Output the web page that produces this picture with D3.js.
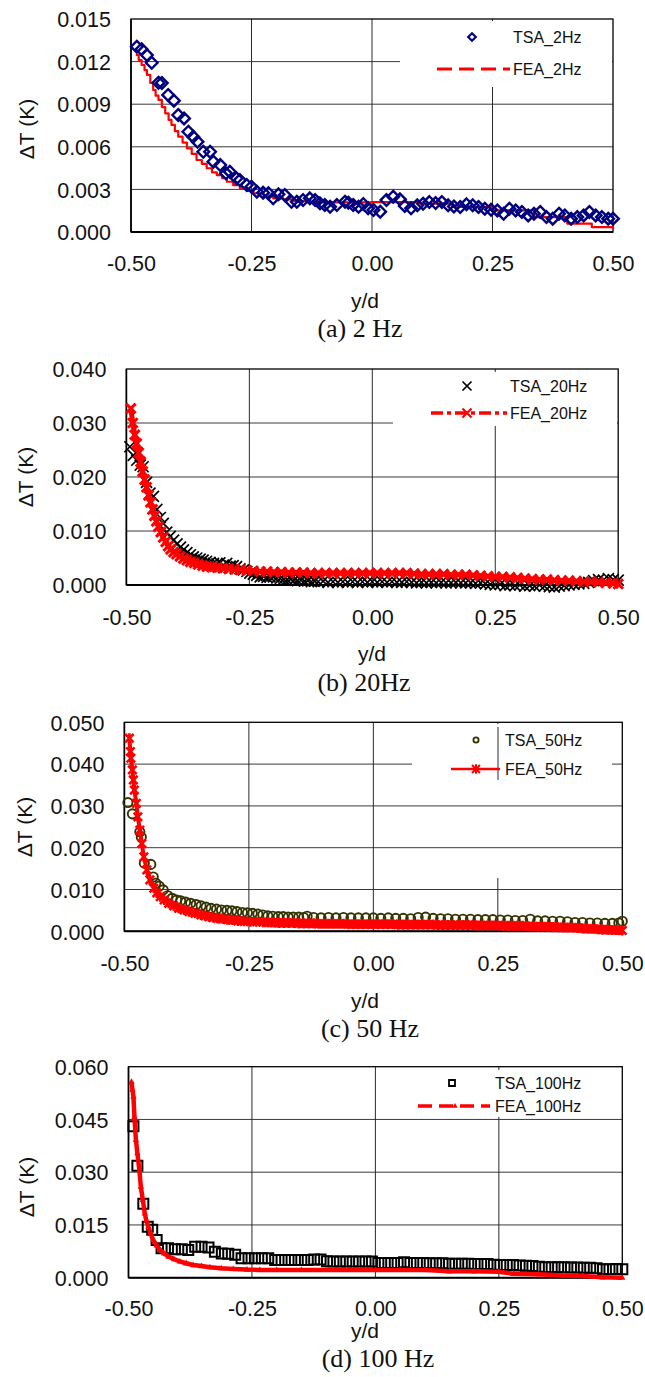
<!DOCTYPE html>
<html>
<head>
<meta charset="utf-8">
<script src="https://cdn.jsdelivr.net/npm/d3@7"></script>
<style>
  body { margin: 0; background: #fff; }
  svg { display: block; }
  text { font-family: "Liberation Sans", Arial, sans-serif; fill: #111; }
  .caption { font-family: "Liberation Serif", "Times New Roman", serif; }
</style>
</head>
<body>
<svg id="fig" width="645" height="1377"></svg>
<script>
// ---- axis ticks ----
const xTicks = [-0.5, -0.25, 0, 0.25, 0.5];
const yTicks2Hz = [0, 0.003, 0.006, 0.009, 0.012, 0.015];
const yTicks20Hz = [0, 0.01, 0.02, 0.03, 0.04];
const yTicks50Hz = [0, 0.01, 0.02, 0.03, 0.04, 0.05];
const yTicks100Hz = [0, 0.015, 0.03, 0.045, 0.06];

// ---- 2 Hz: measured (TSA) and computed (FEA) temperature amplitude vs y/d ----
const tsa2Hz = [
  [-0.488,0.01305],[-0.478,0.01287],[-0.467,0.01246],[-0.457,0.01192],[-0.443,0.01051],[-0.436,0.0105],
  [-0.423,0.00965],[-0.411,0.00925],[-0.402,0.00824],[-0.390,0.0080],[-0.381,0.00706],[-0.371,0.00671],
  [-0.362,0.00636],[-0.350,0.00565],[-0.336,0.00565],[-0.329,0.00495],[-0.315,0.00472],[-0.303,0.00413],
  [-0.295,0.00425],[-0.281,0.00378],[-0.274,0.00366],[-0.260,0.00331],[-0.250,0.00319],[-0.239,0.00284],
  [-0.226,0.00277],[-0.215,0.00273],[-0.205,0.00237],[-0.194,0.00265],[-0.181,0.00261],[-0.167,0.00213],
  [-0.156,0.00213],[-0.143,0.00225],[-0.129,0.00237],[-0.118,0.00225],[-0.108,0.00202],[-0.098,0.0019],
  [-0.087,0.00178],[-0.073,0.0019],[-0.056,0.00213],[-0.049,0.00206],[-0.039,0.0019],[-0.028,0.00178],
  [-0.018,0.00197],[-0.008,0.00167],[0.003,0.00155],[0.017,0.00143],[0.030,0.00225],[0.044,0.00249],
  [0.058,0.0023],[0.068,0.00183],[0.081,0.00167],[0.094,0.00188],[0.106,0.00199],[0.119,0.00211],
  [0.132,0.00204],[0.145,0.00211],[0.158,0.00188],[0.170,0.0018],[0.183,0.00176],[0.196,0.00195],
  [0.209,0.00188],[0.221,0.00176],[0.234,0.00164],[0.247,0.00157],[0.260,0.00152],[0.273,0.00129],
  [0.285,0.00164],[0.298,0.00152],[0.311,0.00141],[0.324,0.00117],[0.336,0.00129],[0.349,0.00141],
  [0.362,0.00105],[0.375,0.00094],[0.388,0.00129],[0.400,0.00117],[0.413,0.00094],[0.426,0.00105],
  [0.439,0.00117],[0.451,0.00141],[0.464,0.00117],[0.477,0.00105],[0.490,0.00094],[0.500,0.00094]
];
const fea2Hz = [
  [-0.490,0.01247],[-0.484,0.0121],[-0.478,0.01176],[-0.472,0.0114],[-0.467,0.01106],[-0.460,0.0105],
  [-0.454,0.0100],[-0.449,0.0096],[-0.443,0.0093],[-0.436,0.0088],[-0.429,0.00836],[-0.422,0.0079],
  [-0.416,0.00754],[-0.409,0.0071],[-0.402,0.00671],[-0.393,0.0063],[-0.384,0.00589],[-0.374,0.0055],
  [-0.364,0.00507],[-0.353,0.0048],[-0.343,0.00449],[-0.332,0.0042],[-0.322,0.00401],[-0.311,0.0038],
  [-0.301,0.00354],[-0.288,0.0033],[-0.274,0.00308],[-0.260,0.0029],[-0.246,0.00273],[-0.225,0.0025],
  [-0.205,0.00237],[-0.184,0.0023],[-0.163,0.00218],[-0.135,0.0021],[-0.108,0.00209],[0.0,0.0021],
  [0.10,0.0020],[0.166,0.00176],[0.251,0.00152],[0.336,0.00105],[0.405,0.00059],[0.456,0.00035],[0.500,0.00023]
];

// ---- 20 Hz ----
const tsa20Hz = [
  [-0.493,0.0256],[-0.486,0.0240],[-0.479,0.0231],[-0.472,0.0222],[-0.466,0.0219],[-0.459,0.0190],
  [-0.452,0.0170],[-0.445,0.0164],[-0.438,0.0140],[-0.431,0.0125],[-0.425,0.0114],[-0.418,0.0098],
  [-0.411,0.0090],[-0.404,0.0083],[-0.397,0.0076],[-0.390,0.0070],[-0.384,0.0065],[-0.377,0.0060],
  [-0.370,0.0056],[-0.364,0.0052],[-0.357,0.0050],[-0.350,0.0048],[-0.344,0.0046],[-0.337,0.0044],
  [-0.330,0.0042],[-0.323,0.0040],[-0.316,0.0039],[-0.310,0.0041],[-0.303,0.0037],[-0.296,0.0040],
  [-0.289,0.0035],[-0.283,0.0036],[-0.276,0.0034],[-0.269,0.0030],[-0.262,0.0028],[-0.255,0.0025],
  [-0.249,0.0022],[-0.242,0.0020],[-0.235,0.0018],[-0.228,0.0015],[-0.221,0.0016],[-0.214,0.0014],
  [-0.208,0.0015],[-0.201,0.0015],[-0.194,0.0013],[-0.187,0.0012],[-0.180,0.0011],[-0.173,0.0010],
  [-0.166,0.0011],[-0.159,0.0009],[-0.152,0.0008],[-0.145,0.0009],[-0.138,0.0007],[-0.131,0.0008],
  [-0.124,0.0006],[-0.117,0.0007],[-0.110,0.0006],[-0.100,0.0007],[-0.090,0.0005],[-0.080,0.0006],
  [-0.070,0.0005],[-0.060,0.0006],[-0.050,0.0005],[-0.040,0.0006],[-0.030,0.0005],[-0.020,0.0006],
  [-0.010,0.0005],[0.000,0.0006],[0.010,0.0005],[0.020,0.0006],[0.030,0.0005],[0.040,0.0006],
  [0.050,0.0005],[0.060,0.0005],[0.070,0.0006],[0.080,0.0005],[0.090,0.0004],[0.100,0.0005],
  [0.110,0.0004],[0.120,0.0005],[0.130,0.0004],[0.140,0.0005],[0.150,0.0004],[0.160,0.0004],
  [0.170,0.0005],[0.180,0.0004],[0.190,0.0004],[0.200,0.0004],[0.210,0.0003],[0.220,0.0004],
  [0.230,0.0002],[0.240,0.0001],[0.250,0.0000],[0.260,0.0001],[0.270,-0.0001],[0.280,0.0000],
  [0.290,-0.0001],[0.300,0.0000],[0.310,-0.0002],[0.320,-0.0001],[0.330,-0.0002],[0.340,0.0000],
  [0.350,-0.0002],[0.360,-0.0003],[0.370,-0.0004],[0.380,-0.0002],[0.390,-0.0001],[0.400,0.0000],
  [0.410,0.0001],[0.420,0.0002],[0.430,0.0003],[0.440,0.0005],[0.450,0.0008],[0.460,0.0010],
  [0.470,0.0009],[0.480,0.0012],[0.490,0.0010],[0.500,0.0009]
];
const fea20Hz = [
  [-0.491,0.0327],[-0.487,0.0300],[-0.483,0.0278],[-0.479,0.0262],[-0.475,0.0245],[-0.471,0.0228],
  [-0.467,0.0210],[-0.463,0.0195],[-0.459,0.0181],[-0.455,0.0166],[-0.451,0.0153],[-0.447,0.0140],
  [-0.443,0.0128],[-0.439,0.0118],[-0.435,0.0108],[-0.430,0.0098],[-0.425,0.0088],[-0.420,0.0080],
  [-0.415,0.0072],[-0.410,0.0066],[-0.404,0.0061],[-0.398,0.0057],[-0.391,0.0053],[-0.384,0.0049],
  [-0.377,0.0046],[-0.370,0.0043],[-0.362,0.0041],[-0.354,0.0038],[-0.345,0.0036],[-0.336,0.0034],
  [-0.326,0.0033],[-0.315,0.0032],[-0.304,0.0031],[-0.292,0.0030],[-0.280,0.0029],[-0.268,0.0028],
  [-0.255,0.0027],[-0.242,0.0026],[-0.228,0.0025],[-0.214,0.0025],[-0.200,0.0024],[-0.185,0.0024],
  [-0.170,0.0023],[-0.155,0.0023],[-0.140,0.0023],[-0.125,0.0022],[-0.110,0.0022],[-0.095,0.0022],
  [-0.080,0.0022],[-0.065,0.0022],[-0.050,0.0022],[-0.035,0.0022],[-0.020,0.0022],[-0.005,0.0022],
  [0.010,0.0022],[0.025,0.0022],[0.040,0.0022],[0.055,0.0022],[0.070,0.0022],[0.085,0.0021],
  [0.100,0.0020],[0.115,0.0020],[0.130,0.0020],[0.145,0.0020],[0.160,0.0019],[0.175,0.0019],
  [0.190,0.0019],[0.205,0.0018],[0.220,0.0017],[0.235,0.0016],[0.250,0.0015],[0.265,0.0015],
  [0.280,0.0014],[0.295,0.0013],[0.310,0.0012],[0.325,0.0011],[0.340,0.0010],[0.355,0.0010],
  [0.370,0.0009],[0.385,0.0008],[0.400,0.0008],[0.415,0.0007],[0.430,0.0006],[0.445,0.0006],
  [0.460,0.0005],[0.475,0.0004],[0.490,0.0003],[0.500,0.0002]
];

// ---- 50 Hz ----
const tsa50Hz = [
  [-0.493,0.0308],[-0.484,0.0281],[-0.469,0.0238],[-0.466,0.0225],[-0.460,0.0163],[-0.447,0.0160],
  [-0.442,0.0130],[-0.437,0.0115],[-0.430,0.0108],[-0.422,0.0099],[-0.413,0.0085],[-0.404,0.0079],
  [-0.395,0.0075],[-0.387,0.0073],[-0.377,0.0070],[-0.367,0.0067],[-0.356,0.0064],[-0.346,0.0061],
  [-0.336,0.0058],[-0.326,0.0055],[-0.315,0.0053],[-0.305,0.0051],[-0.294,0.0050],[-0.284,0.0049],
  [-0.274,0.0047],[-0.263,0.0045],[-0.253,0.0044],[-0.243,0.0043],[-0.232,0.0041],[-0.222,0.0039],
  [-0.212,0.0037],[-0.202,0.0036],[-0.191,0.0035],[-0.181,0.0035],[-0.171,0.0034],[-0.161,0.0034],
  [-0.150,0.0034],[-0.140,0.0033],[-0.133,0.0036],[-0.120,0.0033],[-0.105,0.0032],[-0.090,0.0033],
  [-0.075,0.0032],[-0.060,0.0033],[-0.045,0.0032],[-0.030,0.0032],[-0.015,0.0032],[0.000,0.0032],
  [0.015,0.0031],[0.030,0.0032],[0.045,0.0031],[0.060,0.0031],[0.075,0.0030],[0.090,0.0033],
  [0.105,0.0034],[0.120,0.0031],[0.135,0.0030],[0.150,0.0030],[0.165,0.0029],[0.180,0.0029],
  [0.195,0.0029],[0.210,0.0028],[0.225,0.0028],[0.240,0.0028],[0.255,0.0027],[0.270,0.0027],
  [0.285,0.0026],[0.300,0.0026],[0.315,0.0029],[0.330,0.0025],[0.345,0.0025],[0.360,0.0024],
  [0.375,0.0024],[0.390,0.0023],[0.405,0.0021],[0.420,0.0021],[0.435,0.0020],[0.450,0.0020],
  [0.465,0.0019],[0.480,0.0019],[0.493,0.0020],[0.500,0.0024]
];
const fea50Hz = [
  [-0.490,0.0462],[-0.488,0.0430],[-0.487,0.0414],[-0.484,0.0386],[-0.482,0.0362],[-0.480,0.0338],
  [-0.476,0.0306],[-0.473,0.0274],[-0.469,0.0242],[-0.465,0.0210],[-0.461,0.0178],[-0.455,0.0147],
  [-0.449,0.0123],[-0.441,0.0103],[-0.435,0.0092],[-0.428,0.0083],[-0.420,0.0075],[-0.411,0.0067],
  [-0.401,0.0061],[-0.391,0.0055],[-0.380,0.0051],[-0.370,0.0047],[-0.358,0.0043],[-0.346,0.0039],
  [-0.338,0.0037],[-0.330,0.0035],[-0.322,0.0033],[-0.313,0.0031],[-0.303,0.0030],[-0.293,0.0028],
  [-0.283,0.0027],[-0.272,0.0025],[-0.260,0.0024],[-0.247,0.0023],[-0.235,0.0023],[-0.222,0.0022],
  [-0.211,0.0021],[-0.200,0.0021],[-0.190,0.0020],[-0.180,0.0020],[-0.170,0.0020],[-0.160,0.0020],
  [-0.150,0.0019],[-0.140,0.0019],[-0.130,0.0019],[-0.120,0.0019],[-0.110,0.0018],[-0.100,0.0018],
  [-0.090,0.0018],[-0.080,0.0018],[-0.070,0.0018],[-0.060,0.0018],[-0.050,0.0017],[-0.040,0.0017],
  [-0.030,0.0017],[-0.020,0.0017],[-0.010,0.0017],[0.000,0.0017],[0.010,0.0017],[0.020,0.0017],
  [0.030,0.0017],[0.040,0.0017],[0.050,0.0016],[0.060,0.0016],[0.070,0.0016],[0.080,0.0016],
  [0.090,0.0016],[0.100,0.0016],[0.110,0.0016],[0.120,0.0016],[0.130,0.0015],[0.140,0.0015],
  [0.150,0.0015],[0.160,0.0015],[0.170,0.0015],[0.180,0.0015],[0.190,0.0015],[0.200,0.0015],
  [0.210,0.0014],[0.220,0.0014],[0.230,0.0014],[0.240,0.0014],[0.250,0.0014],[0.260,0.0013],
  [0.270,0.0013],[0.280,0.0013],[0.290,0.0013],[0.300,0.0013],[0.310,0.0012],[0.320,0.0012],
  [0.330,0.0011],[0.340,0.0011],[0.350,0.0011],[0.360,0.0010],[0.370,0.0010],[0.380,0.0009],
  [0.390,0.0009],[0.400,0.0009],[0.410,0.0008],[0.420,0.0007],[0.430,0.0006],[0.440,0.0006],
  [0.450,0.0005],[0.460,0.0004],[0.470,0.0004],[0.480,0.0003],[0.490,0.0003],[0.500,0.0002]
];

// ---- 100 Hz ----
const tsa100Hz = [
  [-0.490,0.0431],[-0.482,0.0318],[-0.470,0.0210],[-0.461,0.0145],[-0.452,0.0136],[-0.443,0.0107],
  [-0.433,0.0084],[-0.420,0.0084],[-0.406,0.0081],[-0.392,0.0081],[-0.379,0.0079],[-0.365,0.0088],
  [-0.352,0.0088],[-0.338,0.0086],[-0.325,0.0074],[-0.311,0.0069],[-0.298,0.0068],[-0.284,0.0065],
  [-0.271,0.0055],[-0.257,0.0055],[-0.244,0.0055],[-0.230,0.0055],[-0.217,0.0055],[-0.203,0.0050],
  [-0.190,0.0050],[-0.176,0.0050],[-0.163,0.0050],[-0.150,0.0050],[-0.137,0.0050],[-0.124,0.0052],
  [-0.111,0.0052],[-0.098,0.0047],[-0.085,0.0046],[-0.072,0.0046],[-0.059,0.0046],[-0.046,0.0046],
  [-0.033,0.0046],[-0.020,0.0046],[-0.007,0.0046],[0.006,0.0042],[0.019,0.0042],[0.032,0.0042],
  [0.045,0.0042],[0.058,0.0044],[0.071,0.0042],[0.084,0.0042],[0.097,0.0042],[0.110,0.0041],
  [0.123,0.0041],[0.136,0.0041],[0.149,0.0040],[0.162,0.0040],[0.175,0.0040],[0.188,0.0040],
  [0.201,0.0039],[0.214,0.0039],[0.227,0.0039],[0.240,0.0037],[0.253,0.0036],[0.266,0.0036],
  [0.279,0.0036],[0.292,0.0035],[0.305,0.0034],[0.318,0.0033],[0.331,0.0031],[0.344,0.0030],
  [0.357,0.0030],[0.370,0.0030],[0.383,0.0030],[0.396,0.0029],[0.409,0.0029],[0.422,0.0028],
  [0.435,0.0028],[0.448,0.0027],[0.461,0.0024],[0.474,0.0024],[0.487,0.0025],[0.500,0.0024]
];
const fea100Hz = [
  [-0.494,0.0557],[-0.492,0.0535],[-0.490,0.0515],[-0.488,0.0458],[-0.485,0.0392],[-0.482,0.0354],
  [-0.478,0.0306],[-0.475,0.0259],[-0.471,0.0221],[-0.467,0.0183],[-0.464,0.0163],[-0.460,0.0145],
  [-0.455,0.0125],[-0.450,0.0107],[-0.443,0.0092],[-0.436,0.0079],[-0.428,0.0069],[-0.419,0.0060],
  [-0.408,0.0053],[-0.396,0.0046],[-0.383,0.0041],[-0.369,0.0036],[-0.352,0.0033],[-0.335,0.0030],
  [-0.312,0.0027],[-0.288,0.0025],[-0.260,0.0023],[-0.234,0.0022],[-0.200,0.0022],[-0.150,0.0022],
  [-0.100,0.0022],[-0.050,0.0022],[0.000,0.0022],[0.050,0.0022],[0.100,0.0022],[0.150,0.0018],
  [0.200,0.0018],[0.250,0.0017],[0.280,0.0011],[0.330,0.0010],[0.380,0.0006],[0.420,0.0005],
  [0.460,0.0001],[0.500,0.0000]
];

// ---- marker shapes ----
function markerPath(kind, r) {
  switch (kind) {
    case "diamond": return `M0,${-r}L${r},0L0,${r}L${-r},0Z`;
    case "cross": return `M${-r},${-r}L${r},${r}M${-r},${r}L${r},${-r}`;
    case "asterisk": return `M${-r},${-r}L${r},${r}M${-r},${r}L${r},${-r}M0,${-r * 1.2}L0,${r * 1.2}`;
    case "square": return `M${-r},${-r}H${r}V${r}H${-r}Z`;
    case "triangle": return `M0,${-r}L${r * 0.9},${r * 0.6}L${-r * 0.9},${r * 0.6}Z`;
    case "circle": return d3.arc()({innerRadius: 0, outerRadius: r, startAngle: 0, endAngle: 2 * Math.PI});
  }
}
function markerStyle(sel, m) {
  sel.attr("d", markerPath(m.shape, m.r))
    .attr("fill", m.fill || "none")
    .attr("stroke", m.stroke || "none")
    .attr("stroke-width", m.sw || 0);
}

const svg = d3.select("#fig");

const panels = [
  {
    box: {left: 131, right: 613, top: 19, bottom: 232}, yMax: 0.015, yTicks: yTicks2Hz,
    xTickY: 263, xTitle: {x: 365, y: 300}, yTitle: {x: 26, y: 129},
    caption: {text: "(a) 2 Hz", x: 360, y: 337},
    legendBox: {x0: 400, x1: 612, y0: 21, y1: 87},
    vGridGaps: {},
    series: [
      {name: "FEA_2Hz", data: fea2Hz, line: {stroke: "#ff0000", sw: 2.2, curve: d3.curveStepAfter}},
      {name: "TSA_2Hz", data: tsa2Hz, marker: {shape: "diamond", r: 5.8, stroke: "#000080", sw: 2.4}}
    ],
    legend: [
      {name: "TSA_2Hz", y: 37, marker: {shape: "diamond", r: 3.8, stroke: "#000080", sw: 2.2}, mx: 472, tx: 513},
      {name: "FEA_2Hz", y: 69, line: {x0: 437, x1: 510, stroke: "#ff0000", sw: 3.2, dash: "15,7"}, tx: 513}
    ]
  },
  {
    box: {left: 126.4, right: 618.2, top: 369, bottom: 585}, yMax: 0.04, yTicks: yTicks20Hz,
    xTickY: 617, xTitle: {x: 372, y: 653}, yTitle: {x: 25, y: 477},
    caption: {text: "(b) 20Hz", x: 364, y: 691},
    legendBox: {x0: 393, x1: 617, y0: 372, y1: 426},
    vGridGaps: {},
    series: [
      {name: "TSA_20Hz", data: tsa20Hz, marker: {shape: "cross", r: 5.5, stroke: "#000", sw: 1.7}},
      {name: "FEA_20Hz", data: fea20Hz, line: {stroke: "#ff0000", sw: 5},
       marker: {shape: "cross", r: 4.8, stroke: "#ff0000", sw: 3}}
    ],
    legend: [
      {name: "TSA_20Hz", y: 386, marker: {shape: "cross", r: 4.5, stroke: "#000", sw: 1.7}, mx: 467, tx: 510},
      {name: "FEA_20Hz", y: 413, line: {x0: 431, x1: 507, stroke: "#ff0000", sw: 3.5, dash: "12,4,4,4"},
       marker: {shape: "cross", r: 4.5, stroke: "#ff0000", sw: 2.2}, mx: 467, tx: 510}
    ]
  },
  {
    box: {left: 124.4, right: 622.3, top: 722.3, bottom: 931.3}, yMax: 0.05, yTicks: yTicks50Hz,
    xTickY: 963, xTitle: {x: 365, y: 1000}, yTitle: {x: 24, y: 827},
    caption: {text: "(c) 50 Hz", x: 370, y: 1037},
    legendBox: {x0: 412, x1: 612, y0: 724, y1: 780},
    vGridGaps: {0.25: [780, 878]},
    legendGridOver: {x: 498, y0: 727, y1: 780},
    series: [
      {name: "TSA_50Hz", data: tsa50Hz, marker: {shape: "circle", r: 4.6, stroke: "#333300", sw: 1.9}},
      {name: "FEA_50Hz", data: fea50Hz, line: {stroke: "#ff0000", sw: 4},
       marker: {shape: "asterisk", r: 4.2, stroke: "#ff0000", sw: 2.6}}
    ],
    legend: [
      {name: "TSA_50Hz", y: 740, marker: {shape: "circle", r: 2.6, stroke: "#333300", sw: 1.8}, mx: 476, tx: 505},
      {name: "FEA_50Hz", y: 769, line: {x0: 451, x1: 500, stroke: "#ff0000", sw: 2.5},
       marker: {shape: "asterisk", r: 4, stroke: "#ff0000", sw: 2}, mx: 476, tx: 505}
    ]
  },
  {
    box: {left: 128.5, right: 622.3, top: 1066.7, bottom: 1277.7}, yMax: 0.06, yTicks: yTicks100Hz,
    xTickY: 1308, xTitle: {x: 365, y: 1330}, yTitle: {x: 26, y: 1187},
    caption: {text: "(d) 100 Hz", x: 378, y: 1367},
    legendBox: {x0: 400, x1: 621, y0: 1070, y1: 1117},
    vGridGaps: {},
    series: [
      {name: "TSA_100Hz", data: tsa100Hz, marker: {shape: "square", r: 5, stroke: "#000", sw: 2}},
      {name: "FEA_100Hz", data: fea100Hz, line: {stroke: "#ff0000", sw: 4.5},
       marker: {shape: "triangle", r: 3.5, fill: "#ff0000"}}
    ],
    legend: [
      {name: "TSA_100Hz", y: 1083, marker: {shape: "square", r: 3, stroke: "#000", sw: 1.8}, mx: 452, tx: 495},
      {name: "FEA_100Hz", y: 1106, line: {x0: 418, x1: 490, stroke: "#ff0000", sw: 3.5, dash: "14,7"},
       marker: {shape: "triangle", r: 3, fill: "#ff0000"}, mx: 455, tx: 495}
    ]
  }
];

panels.forEach(p => {
  const b = p.box;
  const x = d3.scaleLinear().domain([-0.5, 0.5]).range([b.left, b.right]);
  const y = d3.scaleLinear().domain([0, p.yMax]).range([b.bottom, b.top]);
  const g = svg.append("g");

  // horizontal grid
  g.append("g").selectAll("line").data(p.yTicks.slice(1, -1)).join("line")
    .attr("x1", b.left).attr("x2", b.right)
    .attr("y1", d => y(d)).attr("y2", d => y(d))
    .attr("stroke", "#3a3a3a").attr("stroke-width", 1);

  // vertical grid (interior x ticks)
  xTicks.slice(1, -1).forEach(t => {
    const gap = p.vGridGaps[t];
    const segs = gap ? [[b.top, gap[0]], [gap[1], b.bottom]] : [[b.top, b.bottom]];
    segs.forEach(s => g.append("line")
      .attr("x1", x(t)).attr("x2", x(t)).attr("y1", s[0]).attr("y2", s[1])
      .attr("stroke", "#2a2a2a").attr("stroke-width", 1));
  });

  // legend background
  const lb = p.legendBox;
  g.append("rect").attr("x", lb.x0).attr("y", lb.y0)
    .attr("width", lb.x1 - lb.x0).attr("height", lb.y1 - lb.y0).attr("fill", "#fff");
  if (p.legendGridOver) {
    g.append("line").attr("x1", p.legendGridOver.x).attr("x2", p.legendGridOver.x)
      .attr("y1", p.legendGridOver.y0).attr("y2", p.legendGridOver.y1)
      .attr("stroke", "#2a2a2a").attr("stroke-width", 1);
  }

  // frame
  g.append("rect").attr("x", b.left).attr("y", b.top)
    .attr("width", b.right - b.left).attr("height", b.bottom - b.top)
    .attr("fill", "none").attr("stroke", "#000").attr("stroke-width", 1.3);
  g.append("line").attr("x1", b.left).attr("x2", b.right).attr("y1", b.bottom).attr("y2", b.bottom)
    .attr("stroke", "#000").attr("stroke-width", 2);
  g.append("line").attr("x1", b.left).attr("x2", b.left).attr("y1", b.top).attr("y2", b.bottom)
    .attr("stroke", "#000").attr("stroke-width", 1.6);

  // axes labels via d3 axes, domain and tick lines hidden
  const yAxis = d3.axisLeft(y).tickValues(p.yTicks).tickFormat(d3.format(".3f")).tickSize(0).tickPadding(20);
  const ya = g.append("g").attr("transform", `translate(${b.left},0)`).call(yAxis);
  ya.select(".domain").remove();
  ya.selectAll("text").attr("font-size", 21.5).attr("font-family", "Liberation Sans, Arial, sans-serif")
    .attr("fill", "#111").attr("dy", "0.36em");

  const xAxis = d3.axisBottom(x).tickValues(xTicks).tickFormat(d3.format(".2f")).tickSize(0).tickPadding(0);
  const xa = g.append("g").attr("transform", `translate(0,${p.xTickY})`).call(xAxis);
  xa.select(".domain").remove();
  xa.selectAll("text").attr("font-size", 21.5).attr("font-family", "Liberation Sans, Arial, sans-serif")
    .attr("fill", "#111").attr("y", 0).attr("dy", "0.36em")
    .text(d => d3.format(".2f")(d).replace("−", "-"));

  // series
  p.series.forEach(s => {
    if (s.line) {
      const ln = d3.line().x(d => x(d[0])).y(d => y(d[1])).curve(s.line.curve || d3.curveLinear);
      g.append("path").datum(s.data).attr("d", ln)
        .attr("fill", "none").attr("stroke", s.line.stroke).attr("stroke-width", s.line.sw)
        .attr("stroke-dasharray", s.line.dash || null).attr("stroke-linejoin", "round");
    }
    if (s.marker) {
      g.append("g").selectAll("path").data(s.data).join("path")
        .attr("transform", d => `translate(${x(d[0])},${y(d[1])})`)
        .call(markerStyle, s.marker);
    }
  });

  // legend entries
  p.legend.forEach(L => {
    if (L.line) {
      g.append("line").attr("x1", L.line.x0).attr("x2", L.line.x1).attr("y1", L.y).attr("y2", L.y)
        .attr("stroke", L.line.stroke).attr("stroke-width", L.line.sw)
        .attr("stroke-dasharray", L.line.dash || null);
    }
    if (L.marker) {
      g.append("path").attr("transform", `translate(${L.mx},${L.y})`).call(markerStyle, L.marker);
    }
    g.append("text").attr("x", L.tx).attr("y", L.y).attr("dy", "0.36em")
      .attr("font-size", 16).text(L.name);
  });

  // titles
  g.append("text").attr("x", p.xTitle.x).attr("y", p.xTitle.y).attr("dy", "0.36em")
    .attr("text-anchor", "middle").attr("font-size", 21).text("y/d");
  g.append("text").attr("transform", `translate(${p.yTitle.x},${p.yTitle.y}) rotate(-90)`)
    .attr("dy", "0.36em").attr("text-anchor", "middle").attr("font-size", 21).text("ΔT (K)");
  g.append("text").attr("class", "caption").attr("x", p.caption.x).attr("y", p.caption.y)
    .attr("text-anchor", "middle").attr("font-size", 26).text(p.caption.text);
});
</script>
</body>
</html>
